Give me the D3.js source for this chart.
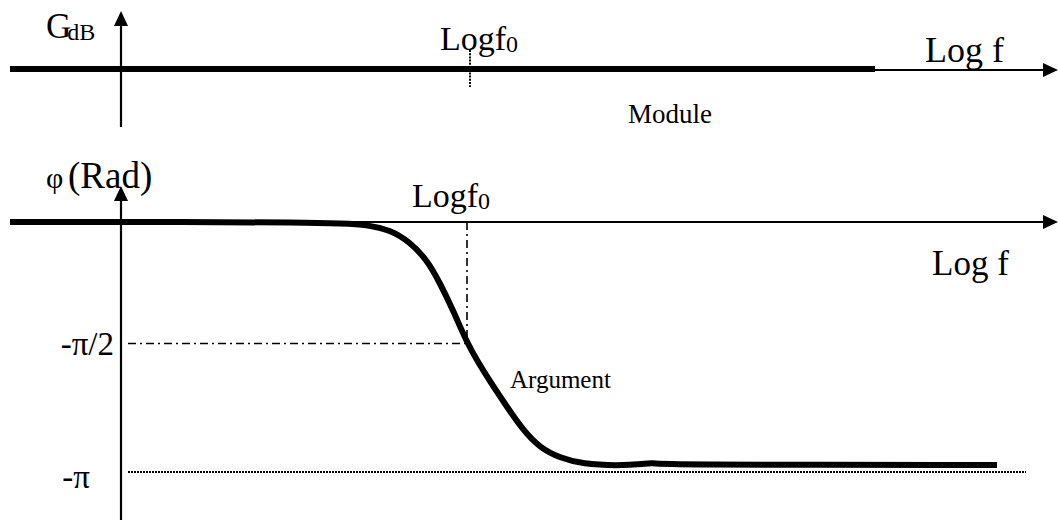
<!DOCTYPE html>
<html>
<head>
<meta charset="utf-8">
<script src="https://cdn.jsdelivr.net/npm/d3@7"></script>
<style>
	body { margin: 0; background: #fff; }
	svg { display: block; }
	text { font-family: "Liberation Serif", "Times New Roman", serif; fill: #000; }
</style>
</head>
<body>
<svg id="bode" width="1058" height="520"></svg>
<script>
"use strict";

/* global d3 */

// Log f positions are given in decades relative to f0 (f0 -> 0)
const gainLogF = [-4.57, 4.08];
const gainDb = [0, 0];

const phaseLogF = [-4.57, -1.27, -1.00, -0.77, -0.57, -0.40, -0.27, -0.14, 0.00,
	0.11, 0.23, 0.40, 0.56, 0.73, 0.93, 1.16, 1.50, 1.78, 1.86, 1.89, 5.30];
const phaseRad = [0, 0, -0.04, -0.10, -0.26, -0.49, -0.79, -1.14, -1.56,
	-1.81, -2.06, -2.39, -2.69, -2.92, -3.05, -3.13, -3.15, -3.13, -3.11, -3.14, -3.14];

const axisLogF = -3.46;     // where the vertical axes cross
const f0LogF = 0;
const phaseTickValues = [-Math.PI / 2, -Math.PI];
const phaseTickLabels = ['-π/2', '-π'];

////////////////////////////////////////////////////////////////////////////////
// Scales
////////////////////////////////////////////////////////////////////////////////
var W = 1058, H = 520;
var x = d3.scaleLinear().domain([-4.67, 5.91]).range([0, W]);
var yGain = d3.scaleLinear().domain([-1, 1]).range([79, 59]);
var yPhase = d3.scaleLinear().domain([0, -Math.PI]).range([222, 465]);

var svg = d3.select('#bode');

////////////////////////////////////////////////////////////////////////////////
// Draw a line ending with a filled arrow head.
////////////////////////////////////////////////////////////////////////////////
function drawArrow(parent, x1, y1, x2, y2, headLen=15, headW=7) {
	var a = Math.atan2(y2 - y1, x2 - x1),
		bx = x2 - headLen * Math.cos(a), by = y2 - headLen * Math.sin(a);
	parent.append('line').attr('x1', x1).attr('y1', y1).attr('x2', bx).attr('y2', by).
		style('stroke', '#000').style('stroke-width', 2.2);
	var pts = [[x2, y2],
		[bx + headW * Math.sin(a), by - headW * Math.cos(a)],
		[bx - headW * Math.sin(a), by + headW * Math.cos(a)]];
	parent.append('path').attr('d', 'M' + pts.join('L') + 'Z').style('fill', '#000');
} // end function drawArrow(...)

function label(parent, px, py, txt, size, anchor='start') {
	return parent.append('text').attr('x', px).attr('y', py).
		style('font-size', size + 'px').style('text-anchor', anchor).text(txt);
}

////////////////////////////////////////////////////////////////////////////////
// Top panel: module
////////////////////////////////////////////////////////////////////////////////
var modG = svg.append('g').attr('class', 'module');

drawArrow(modG, x(gainLogF[0]), yGain(0) + 1, W, yGain(0) + 1);
drawArrow(modG, x(axisLogF), 127, x(axisLogF), 11);

modG.append('line').attr('x1', x(f0LogF) + 3).attr('x2', x(f0LogF) + 3).
	attr('y1', 50).attr('y2', 87).
	style('stroke', '#000').style('stroke-width', 2).style('stroke-dasharray', '2,1.2');

var gainLine = d3.line().x(function(d, i) { return x(gainLogF[i]); }).
	y(function(d) { return yGain(d); });
modG.append('path').attr('d', gainLine(gainDb)).
	style('fill', 'none').style('stroke', '#000').style('stroke-width', 6);

var g = label(modG, 46, 38, 'G', 35);
g.append('tspan').attr('dx', -4).attr('dy', 2).style('font-size', '24px').text('dB');

var lf = label(modG, 440, 50, 'Logf', 34);
lf.append('tspan').attr('dy', 2).style('font-size', '24px').text('0');

label(modG, 925, 62, 'Log f', 36);
label(modG, 628, 123, 'Module', 27);

////////////////////////////////////////////////////////////////////////////////
// Bottom panel: argument
////////////////////////////////////////////////////////////////////////////////
var argG = svg.append('g').attr('class', 'argument');

var ph = label(argG, 46, 188, 'φ', 30);
ph.append('tspan').attr('x', 68).style('font-size', '37px').text('(Rad)');

drawArrow(argG, x(gainLogF[0]), yPhase(0), W, yPhase(0));
drawArrow(argG, x(axisLogF), H, x(axisLogF), 186);

// dash-dot guides to the -pi/2 point
var xf0 = x(f0LogF);
argG.append('line').attr('x1', xf0).attr('x2', xf0).
	attr('y1', yPhase(0)).attr('y2', yPhase(phaseTickValues[0])).
	style('stroke', '#000').style('stroke-width', 1.6).style('stroke-dasharray', '8,4,2,4');
argG.append('line').attr('x1', x(axisLogF) + 7).attr('x2', xf0).
	attr('y1', yPhase(phaseTickValues[0])).attr('y2', yPhase(phaseTickValues[0])).
	style('stroke', '#000').style('stroke-width', 1.6).style('stroke-dasharray', '8,4,2,4');

// dotted -pi reference, drawn just under the asymptote so it stays visible
argG.append('line').attr('x1', x(axisLogF) + 7).attr('x2', x(5.59)).
	attr('y1', yPhase(phaseTickValues[1]) + 7).attr('y2', yPhase(phaseTickValues[1]) + 7).
	style('stroke', '#000').style('stroke-width', 2).style('stroke-dasharray', '2,1');

var phaseLine = d3.line().curve(d3.curveBasis).
	x(function(d, i) { return x(phaseLogF[i]); }).
	y(function(d) { return yPhase(d); });
argG.append('path').attr('d', phaseLine(phaseRad)).
	style('fill', 'none').style('stroke', '#000').style('stroke-width', 6).
	style('stroke-linejoin', 'round');

// tick labels
var tickDy = [11, 23];
phaseTickValues.forEach(function(v, i) {
	label(argG, i === 0 ? 114 : 90, yPhase(v) + tickDy[i], phaseTickLabels[i], 33, 'end');
});

var lf2 = label(argG, 412, 207, 'Logf', 34);
lf2.append('tspan').attr('dy', 2).style('font-size', '24px').text('0');

label(argG, 932, 275, 'Log f', 35);
label(argG, 510, 388, 'Argument', 25);
</script>
</body>
</html>
